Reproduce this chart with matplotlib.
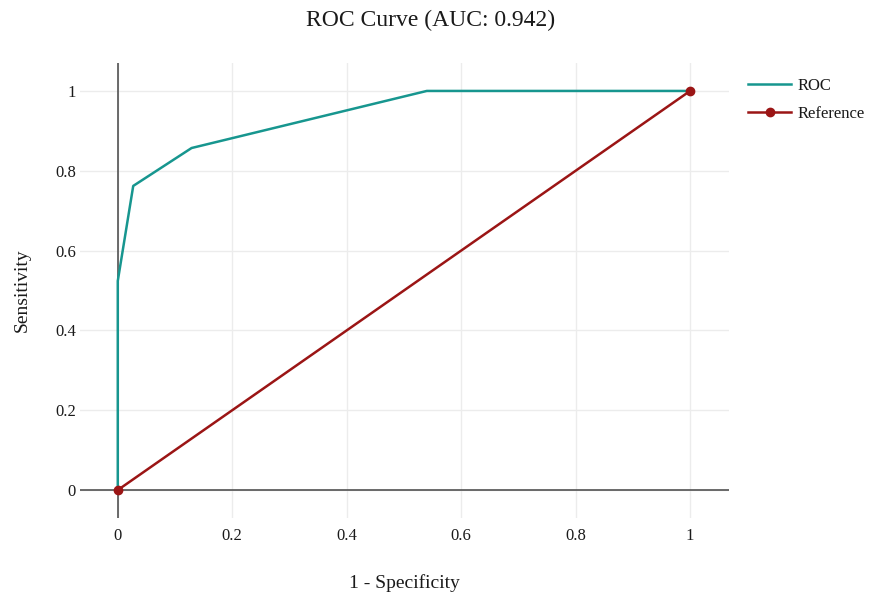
import matplotlib
matplotlib.use("Agg")
import matplotlib.pyplot as plt
from matplotlib.lines import Line2D

plt.rcParams["font.family"] = ["Liberation Serif", "DejaVu Serif"]

# ROC curve points (false positive rate, true positive rate)
fpr = [0.0, 0.0, 0.027, 0.129, 0.540, 1.0]
tpr = [0.0, 0.524, 0.762, 0.857, 1.0, 1.0]
ref_x = [0.0, 1.0]
ref_y = [0.0, 1.0]
auc_value = 0.942

tick_vals = [0, 0.2, 0.4, 0.6, 0.8, 1]
tick_labels = ["0", "0.2", "0.4", "0.6", "0.8", "1"]

roc_color = "#17968f"
ref_color = "#9b1515"
grid_color = "#ececec"
zero_color = "#444444"
text_color = "#1a1a1a"

fig = plt.figure(figsize=(8.69, 5.99), dpi=100)
ax = fig.add_axes([80 / 869, 1 - 518 / 599, (729 - 80) / 869, (518 - 63) / 599])

ax.set_xlim(-0.066, 1.068)
ax.set_ylim(-0.070, 1.070)

for s in ax.spines.values():
    s.set_visible(False)

ax.set_xticks(tick_vals)
ax.set_xticklabels(tick_labels)
ax.set_yticks(tick_vals)
ax.set_yticklabels(tick_labels)
ax.tick_params(axis="both", length=0, labelsize=12, colors=text_color)
ax.tick_params(axis="x", pad=7)
ax.tick_params(axis="y", pad=3)
ax.grid(True, color=grid_color, linewidth=1.0)
ax.set_axisbelow(True)

ax.axhline(0, color=zero_color, linewidth=1.1, zorder=1.5)
ax.axvline(0, color=zero_color, linewidth=1.1, zorder=1.5)

ax.plot(fpr, tpr, color=roc_color, linewidth=1.8, zorder=3, solid_joinstyle="round")
ax.plot(ref_x, ref_y, color=ref_color, linewidth=1.8, marker="o", markersize=6,
        zorder=3, clip_on=False)

fig.text(0.496, 1 - 20 / 599, f"ROC Curve (AUC: {auc_value:.3f})", ha="center",
         va="center", fontsize=17, color=text_color)
fig.text(404.5 / 869, 1 - 583 / 599, "1 - Specificity", ha="center", va="center",
         fontsize=14, color=text_color)
fig.text(22 / 869, 1 - 290 / 599, "Sensitivity", ha="center", va="center",
         rotation=90, fontsize=14, color=text_color)

handles = [
    Line2D([], [], color=roc_color, linewidth=1.8),
    Line2D([], [], color=ref_color, linewidth=1.8, marker="o", markersize=6),
]
fig.legend(handles, ["ROC", "Reference"], loc="upper left",
           bbox_to_anchor=(748 / 869, 1 - 78 / 599), frameon=False, fontsize=12,
           handlelength=2.6, handletextpad=0.36, labelspacing=0.74, borderpad=0,
           borderaxespad=0, labelcolor=text_color)

fig.savefig("out.png", dpi=100)
